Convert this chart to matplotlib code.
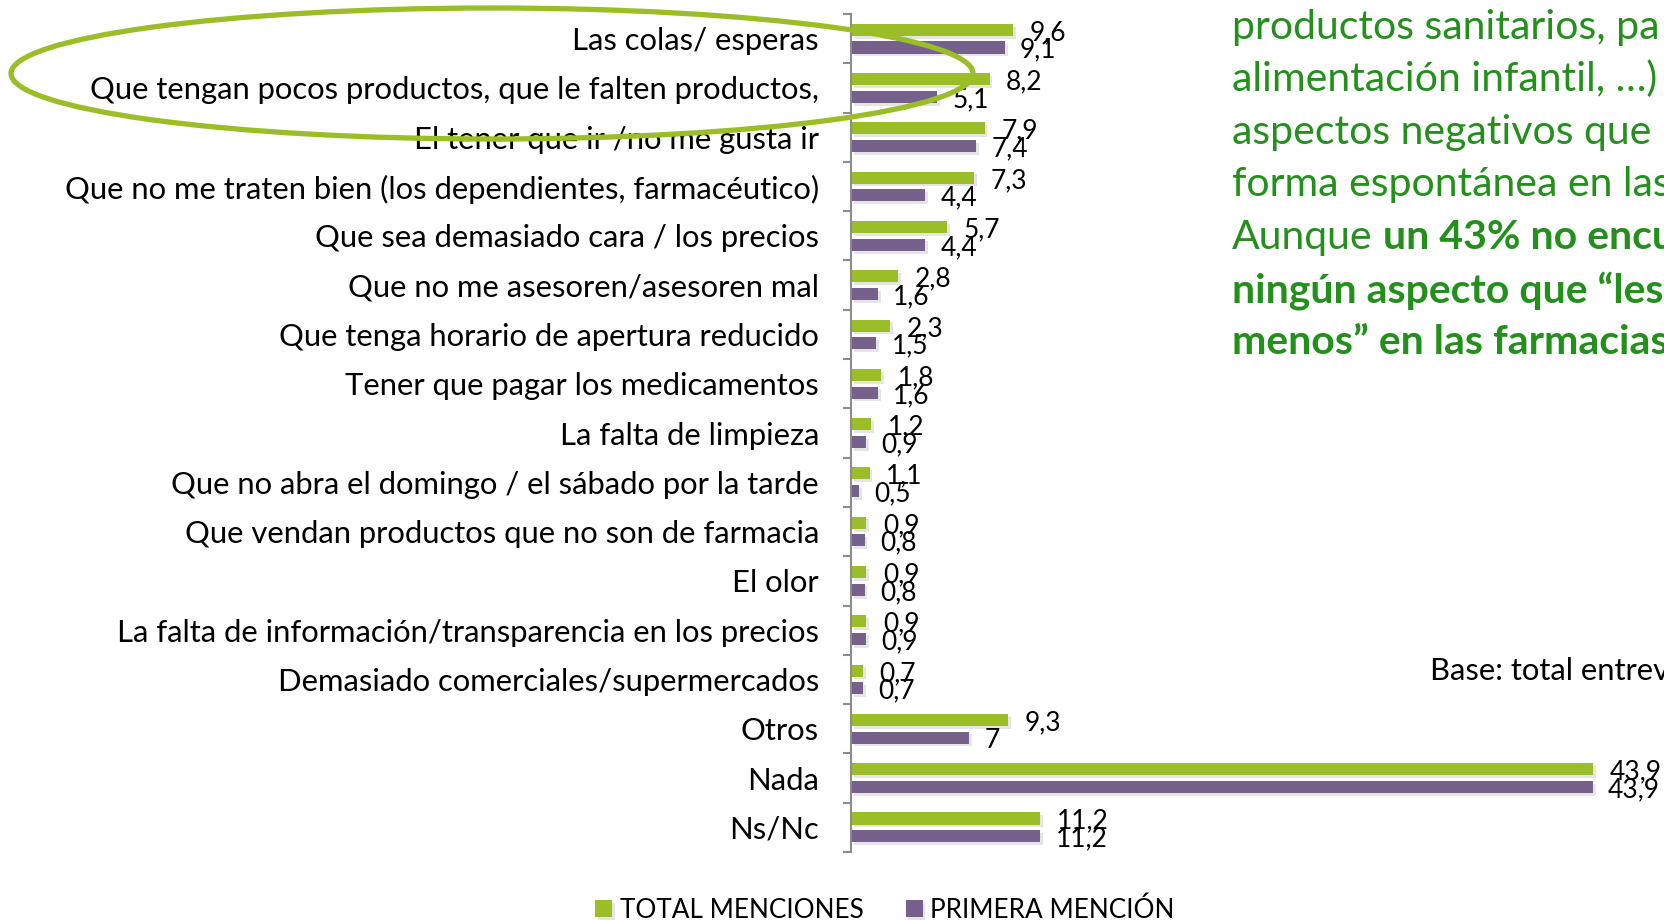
import numpy as np
import matplotlib
matplotlib.use('Agg')
import matplotlib.pyplot as plt
from matplotlib.patches import Ellipse
import matplotlib.patheffects as pe

categories = [
    'Las colas/ esperas',
    'Que tengan pocos productos, que le falten productos,',
    'El tener que ir /no me gusta ir',
    'Que no me traten bien (los dependientes, farmacéutico)',
    'Que sea demasiado cara / los precios',
    'Que no me asesoren/asesoren mal',
    'Que tenga horario de apertura reducido',
    'Tener que pagar los medicamentos',
    'La falta de limpieza',
    'Que no abra el domingo / el sábado por la tarde',
    'Que vendan productos que no son de farmacia',
    'El olor',
    'La falta de información/transparencia en los precios',
    'Demasiado comerciales/supermercados',
    'Otros',
    'Nada',
    'Ns/Nc',
]
total_menciones = [9.6, 8.2, 7.9, 7.3, 5.7, 2.8, 2.3, 1.8, 1.2, 1.1, 0.9, 0.9, 0.9, 0.7, 9.3, 43.9, 11.2]
primera_mencion = [9.1, 5.1, 7.4, 4.4, 4.4, 1.6, 1.5, 1.6, 0.9, 0.5, 0.8, 0.8, 0.9, 0.7, 7.0, 43.9, 11.2]
series_names = ['TOTAL MENCIONES', 'PRIMERA MENCIÓN']

GREEN = '#9BBE28'
PURPLE = '#76608C'
TEXT_GREEN = '#23901C'
FONT = 'Lato'

plt.rcParams['font.family'] = [FONT, 'DejaVu Sans']

W, H = 1665, 922
fig = plt.figure(figsize=(W / 100, H / 100), dpi=100)
ax = fig.add_axes([851 / W, 70 / H, (W - 851) / W, (908 - 70) / H])

y = np.arange(len(categories))
bh = 0.245
off = 0.18
shadow = [pe.SimplePatchShadow(offset=(2, -2), shadow_rgbFace='#999999', alpha=0.25), pe.Normal()]
b1 = ax.barh(y - off, total_menciones, height=bh, color=GREEN, label=series_names[0])
b2 = ax.barh(y + off, primera_mencion, height=bh, color=PURPLE, label=series_names[1])
for b in list(b1) + list(b2):
    b.set_path_effects(shadow)

fmt = lambda v: f'{v:g}'.replace('.', ',')
for yi, v in zip(y, total_menciones):
    ax.annotate(fmt(v), (v, yi - off), xytext=(12, -2), textcoords='offset points',
                va='center', ha='left', fontsize=19)
for yi, v in zip(y, primera_mencion):
    ax.annotate(fmt(v), (v, yi + off), xytext=(11, -2), textcoords='offset points',
                va='center', ha='left', fontsize=19)

ax.set_xlim(0, 814 / 16.9)
ax.set_ylim(len(categories) - 0.5, -0.5)
ax.set_yticks(y)
ax.set_yticklabels(categories, fontsize=22.3)
ax.set_yticks(np.arange(len(categories) + 1) - 0.5, minor=True)
ax.tick_params(axis='y', which='major', length=0, pad=23)
ax.tick_params(axis='y', which='minor', length=6, width=1.5, color='#8C8C8C', direction='out')
ax.set_xticks([])
for s in ['top', 'right', 'bottom']:
    ax.spines[s].set_visible(False)
ax.spines['left'].set_color('#8C8C8C')
ax.spines['left'].set_linewidth(1.5)

# highlight ellipse
fig.add_artist(Ellipse((492 / W, 1 - 73.5 / H), 962 / W, 131 / H, fill=False,
                       edgecolor=GREEN, linewidth=3.8, transform=fig.transFigure, zorder=10))

# side text
x0 = 1232 / W
lines = [
    ('productos sanitarios, pa', ''),
    ('alimentación infantil, …)', ''),
    ('aspectos negativos que m', ''),
    ('forma espontánea en las', ''),
    ('Aunque', 'un 43% no encu'),
    ('', 'ningún aspecto que “les'),
    ('', 'menos” en las farmacias'),
]
baselines = [39, 91, 144, 196, 249, 302, 354]
for (norm, bold), yb in zip(lines, baselines):
    yy = 1 - yb / H
    if norm:
        fig.text(x0, yy, norm, color=TEXT_GREEN, fontsize=29.5, va='baseline')
        if bold:
            fig.text(0, 0, bold, color=TEXT_GREEN, fontsize=29.5, fontweight='bold',
                     va='baseline')
    else:
        fig.text(x0, yy, bold, color=TEXT_GREEN, fontsize=29.5, fontweight='bold', va='baseline')

fig.text(1430 / W, 1 - 680 / H, 'Base: total entrev', fontsize=22.3, va='baseline')

fig.legend(handles=[b1, b2], loc='lower center', bbox_to_anchor=(885 / W, -0.012),
           ncol=2, frameon=False, fontsize=18.8, handlelength=0.65, handleheight=0.65,
           handletextpad=0.3, columnspacing=1.6, borderaxespad=0)

# place bold continuation after "Aunque"
fig.canvas.draw()
r = fig.canvas.get_renderer()
for t in list(fig.texts):
    if t.get_text() == 'Aunque':
        bb = t.get_window_extent(r)
        for t2 in fig.texts:
            if t2.get_text() == 'un 43% no encu':
                t2.set_position(((bb.x1 + 10) / W, t.get_position()[1]))

fig.savefig('out.png', dpi=100)
